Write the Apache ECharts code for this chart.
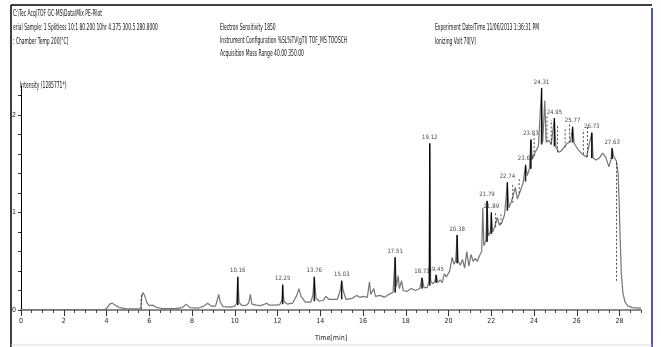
<!DOCTYPE html>
<html><head><meta charset="utf-8">
<script src="https://cdn.jsdelivr.net/npm/echarts@6/dist/echarts.min.js"></script>
<style>html,body{margin:0;padding:0;background:#fff}#c{width:661px;height:347px}</style>
</head><body><div id="c"></div>
<script>
// ---- data ----
const signalTime = [0,3.95,4.05,4.15,4.27,4.4,4.6,4.9,5.3,5.6,5.64,5.7,5.78,5.9,6.0,6.15,6.3,6.6,7.2,7.55,7.73,7.9,8.3,8.55,8.73,8.9,9.1,9.2,9.25,9.32,9.45,9.8,10.0,10.08,10.14,10.2,10.3,10.5,10.65,10.73,10.8,11.0,11.2,11.4,11.5,11.6,11.9,12.1,12.2,12.24,12.3,12.45,12.7,12.9,13.0,13.1,13.3,13.55,13.65,13.72,13.8,13.95,14.15,14.26,14.4,14.8,14.93,15.0,15.07,15.2,15.5,15.7,15.85,16.0,16.2,16.3,16.36,16.5,16.58,16.8,17.0,17.2,17.4,17.5,17.56,17.64,17.7,17.8,17.88,18.05,18.25,18.45,18.65,18.76,18.85,19.0,19.08,19.12,19.16,19.25,19.35,19.42,19.5,19.6,19.7,19.8,19.9,20.05,20.17,20.25,20.33,20.4,20.45,20.55,20.65,20.75,20.85,20.95,21.05,21.15,21.25,21.35,21.45,21.55,21.6,21.65,21.75,21.8,21.86,21.95,22.0,22.06,22.15,22.28,22.38,22.5,22.62,22.75,22.82,22.92,23.05,23.12,23.22,23.35,23.48,23.6,23.68,23.78,23.85,23.92,24.05,24.2,24.35,24.4,24.5,24.56,24.7,24.8,24.95,25.02,25.15,25.25,25.4,25.55,25.7,25.8,25.88,26.05,26.25,26.45,26.7,26.76,26.9,27.05,27.2,27.35,27.5,27.6,27.65,27.72,27.85,27.93,27.98,28.03,28.08,28.15,28.25,28.4,28.6,29.0];
const signalIntensity = [0.005,0.005,0.03,0.06,0.07,0.05,0.025,0.015,0.012,0.012,0.13,0.18,0.15,0.07,0.045,0.05,0.03,0.015,0.015,0.025,0.06,0.025,0.02,0.04,0.07,0.04,0.04,0.12,0.16,0.08,0.035,0.03,0.04,0.07,0.34,0.08,0.05,0.045,0.07,0.16,0.06,0.05,0.045,0.06,0.07,0.05,0.05,0.055,0.1,0.26,0.09,0.06,0.07,0.15,0.22,0.14,0.08,0.08,0.15,0.34,0.12,0.09,0.1,0.14,0.11,0.11,0.2,0.30,0.2,0.11,0.12,0.15,0.13,0.14,0.13,0.29,0.16,0.22,0.14,0.15,0.13,0.16,0.18,0.54,0.24,0.35,0.22,0.3,0.2,0.19,0.22,0.2,0.22,0.33,0.23,0.23,0.3,1.71,0.3,0.27,0.29,0.36,0.28,0.31,0.28,0.37,0.34,0.4,0.54,0.47,0.5,0.77,0.5,0.46,0.52,0.43,0.6,0.45,0.57,0.5,0.53,0.5,0.56,0.6,1.05,0.66,0.72,1.12,0.76,0.8,1.0,0.8,0.85,0.95,0.87,0.9,0.98,1.31,1.05,1.1,1.2,1.26,1.14,1.22,1.3,1.49,1.38,1.45,1.75,1.55,1.62,1.68,2.28,1.72,2.15,1.73,1.74,1.7,1.97,1.67,1.62,1.63,1.67,1.71,1.73,1.88,1.71,1.65,1.6,1.57,1.82,1.56,1.54,1.56,1.61,1.57,1.47,1.55,1.66,1.58,1.53,1.4,1.1,0.7,0.38,0.18,0.08,0.04,0.025,0.02];

const peakTimes  = [10.14,12.24,13.72,15.0,17.5,18.76,19.12,19.42,20.4,21.8,22.0,22.75,23.6,23.85,24.35,24.95,25.8,26.7,27.65];
const peakBase   = [0.05,0.06,0.09,0.11,0.18,0.22,0.25,0.28,0.48,0.7,0.78,1.02,1.32,1.45,1.7,1.68,1.72,1.56,1.55];
const peakApex   = [0.34,0.26,0.34,0.30,0.54,0.33,1.71,0.36,0.77,1.12,1.0,1.31,1.49,1.75,2.28,1.97,1.88,1.82,1.66];
const peakLabels = ['10.16','12.25','13.76','15.03','17.51','18.73','19.12','19.45','20.38','21.79','21.89','22.74','23.62','23.83','24.31','24.95','25.77','26.73','27.63'];

const dropTimes = [5.63,22.2,22.45,23.0,23.3,24.0,24.6,24.8,25.1,25.45,25.65,26.3,26.5,27.85];
const dropBase  = [0.012,0.85,0.88,1.1,1.2,1.58,1.72,1.7,1.62,1.67,1.72,1.6,1.57,0.3];
const dropTop   = [0.16,1.0,1.0,1.3,1.35,1.8,2.0,1.95,1.9,1.87,1.92,1.85,1.9,1.53];

const xTickValues = [0,2,4,6,8,10,12,14,16,18,20,22,24,26,28];
const xMinorValues = [];
for (let v = 0; v <= 29; v += 0.5) xMinorValues.push(v);
const yTickValues = [0,1,2];
const yMinorValues = [0,0.2,0.4,0.6,0.8,1.0,1.2,1.4,1.6,1.8,2.0,2.2];

const headerLeft = ['C:\\Tec Acq\\TOF GC-MS\\Data\\Mix PE-Pilot',
  'erial Sample: 1 Splitless 10:1 80.200 10hr 4.375 300.5 280.8000',
  ': Chamber Temp 200[°C]'];
const headerMid = ['Electron Sensitivity 1850',
  'Instrument Configuration %SL%TV(gTI) TOF_MS TOOSCH',
  'Acquisition Mass Range 40.00 350.00'];
const headerRight = ['Experiment Date/Time 11/06/2013 1:36:31 PM',
  'Ionizing Volt 70[V]'];
const yTitle = 'Intensity (1285771*)';
const xTitle = 'Time[min]';

// ---- chart ----
const FONT = '"Liberation Sans Narrow","DejaVu Sans Condensed","Liberation Sans",sans-serif';
const chart = echarts.init(document.getElementById('c'), null, {renderer:'canvas'});

const signal = signalTime.map((t,i)=>[t, signalIntensity[i]]);
const peaks = peakTimes.map((t,i)=>[t, peakBase[i], peakApex[i]]);
const drops = dropTimes.map((t,i)=>[t, dropBase[i], dropTop[i]]);
const labelPts = peakTimes.map((t,i)=>({value:[t, peakApex[i]], name: peakLabels[i]}));

function hdr(lines, x, y0, dy, sx){
  return lines.map((s,i)=>({type:'text', x:x, y:y0+i*dy, scaleX:sx, silent:true,
    style:{text:s, fontSize:8, fontFamily:FONT, fill:'#111', verticalAlign:'middle'}}));
}

const graphics = [
  {type:'line', shape:{x1:11,y1:5,x2:11,y2:347}, style:{stroke:'#000',lineWidth:1.5}, silent:true},
  {type:'line', shape:{x1:11,y1:5,x2:652,y2:5}, style:{stroke:'#000',lineWidth:1.5}, silent:true},
  {type:'line', shape:{x1:652,y1:8,x2:652,y2:347}, style:{stroke:'#1a1acc',lineWidth:1.5}, silent:true},
  {type:'line', shape:{x1:11,y1:345,x2:652,y2:345}, style:{stroke:'#d0d6f2',lineWidth:1}, silent:true},
  ...hdr(headerLeft, 13, 14, 14, 0.62),
  ...hdr(headerMid, 220, 28, 13, 0.62),
  ...hdr(headerRight, 435, 28, 14, 0.62),
  {type:'text', x:20, y:86, scaleX:0.62, silent:true,
    style:{text:yTitle, fontSize:8, fontFamily:FONT, fill:'#111', verticalAlign:'middle'}}
];

chart.setOption({
  animation:false,
  backgroundColor:'#fff',
  grid:{left:21, right:20, top:86, bottom:37, containLabel:false},
  xAxis:[
    {type:'value', min:0, max:29, interval:0.5,
     axisLine:{lineStyle:{color:'#8c8c8c', width:2}},
     axisTick:{customValues:xMinorValues, length:3, lineStyle:{color:'#444'}},
     axisLabel:{show:false}, splitLine:{show:false}},
    {type:'value', min:0, max:29, position:'bottom', offset:0,
     axisLine:{show:false},
     axisTick:{customValues:xTickValues, length:6, lineStyle:{color:'#333'}},
     axisLabel:{customValues:xTickValues, fontSize:7, fontFamily:FONT, color:'#222', margin:8},
     splitLine:{show:false},
     name:xTitle, nameLocation:'middle', nameGap:25,
     nameTextStyle:{fontSize:7, fontFamily:FONT, color:'#222'}}
  ],
  yAxis:{type:'value', min:0, max:2.3,
    axisLine:{show:true, lineStyle:{color:'#000', width:1}},
    axisTick:{show:true, customValues:yMinorValues, length:3, lineStyle:{color:'#333'}},
    axisLabel:{customValues:yTickValues, fontSize:7, fontFamily:FONT, color:'#222', margin:5},
    splitLine:{show:false}},
  graphic: graphics,
  series:[
    {type:'line', data:signal, xAxisIndex:0, symbol:'none', smooth:false,
     lineStyle:{color:'#757575', width:1.2}, z:2},
    {type:'custom', xAxisIndex:0, data:peaks, encode:{x:0, y:[1,2]}, z:3,
     renderItem:function(params, api){
       const t=api.value(0), b=api.value(1), a=api.value(2);
       const p0=api.coord([t-0.015,b]), p1=api.coord([t,a]), p2=api.coord([t+0.015,b]);
       return {type:'polyline', shape:{points:[p0,p1,p2]}, style:{stroke:'#000', fill:null, lineWidth:0.9}};
     }},
    {type:'custom', xAxisIndex:0, data:drops, encode:{x:0, y:[1,2]}, z:3,
     renderItem:function(params, api){
       const t=api.value(0), b=api.value(1), a=api.value(2);
       const p0=api.coord([t,b]), p1=api.coord([t,a]);
       return {type:'line', shape:{x1:p0[0],y1:p0[1],x2:p1[0],y2:p1[1]},
         style:{stroke:'#222', lineWidth:0.8, lineDash:[2,2]}};
     }},
    {type:'scatter', xAxisIndex:0, data:labelPts, symbolSize:0, z:4,
     label:{show:true, position:'top', distance:3, formatter:p=>p.name,
       fontSize:6, fontFamily:FONT, color:'#111'}}
  ]
});
</script></body></html>
